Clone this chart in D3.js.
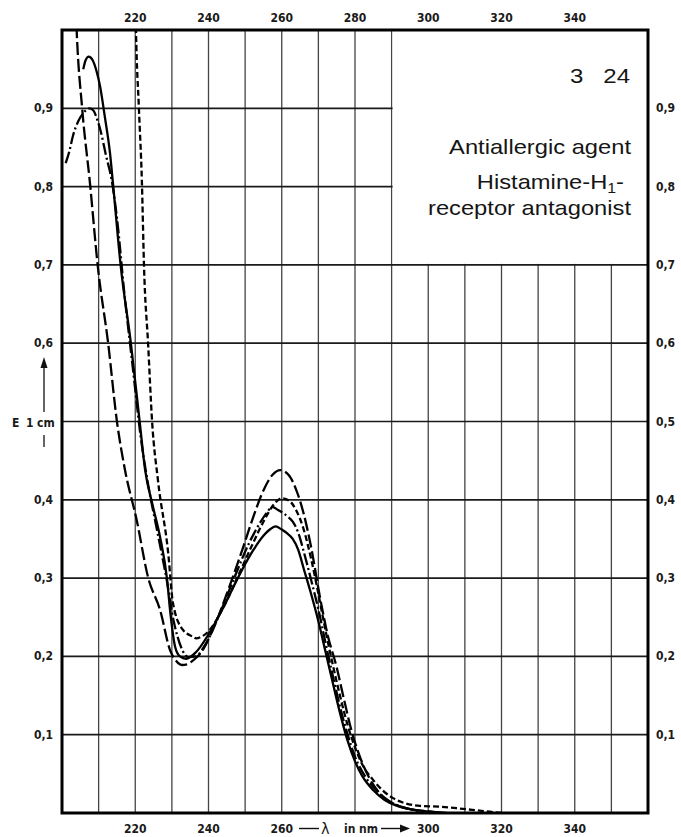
<!DOCTYPE html>
<html>
  <head>
    <meta charset="utf-8">
    <title>UV spectrum 3 24</title>
    <style>
      body { margin: 0; background: #fff; }
      .tick { font-family: "DejaVu Sans Condensed", "Liberation Sans Narrow", sans-serif; font-size: 12px; font-weight: bold; fill: #1a1a1a; }
      .note { font-family: "Liberation Sans", Arial, sans-serif; fill: #151515; }
    </style>
  </head>
  <body>
    <script src="https://d3js.org/d3.v7.min.js"></script>
    <script type="text/javascript">
      // wavelengths (nm) and E 1cm values
      var solidNm   = [205.8, 206.5, 207.3, 208.3, 209.4, 210.4, 211.7, 213.1, 214.0, 216.0, 218.8, 221.2, 222.7, 224.8, 226.8, 228.7, 229.6, 230.9, 232.2, 233.9, 236.5, 240, 244, 248, 252, 255, 257, 258.3, 260, 261.5, 263, 264.5, 266, 268, 270, 272, 274, 276, 278, 280, 282, 285, 288, 291, 295, 300, 305];
      var solidVal  = [0.950, 0.962, 0.966, 0.962, 0.948, 0.928, 0.889, 0.843, 0.800, 0.700, 0.600, 0.500, 0.438, 0.392, 0.352, 0.298, 0.255, 0.212, 0.200, 0.197, 0.205, 0.228, 0.262, 0.300, 0.334, 0.354, 0.363, 0.366, 0.362, 0.357, 0.350, 0.336, 0.312, 0.280, 0.245, 0.205, 0.165, 0.126, 0.092, 0.066, 0.047, 0.029, 0.017, 0.010, 0.005, 0.002, 0.0];

      var longNm    = [203.6, 204.0, 205.5, 207.6, 209.8, 212.6, 215.0, 217.2, 220.4, 223.5, 226.8, 229.5, 231.2, 232.7, 234.2, 235.8, 238, 241, 245, 249.5, 252, 255, 257.5, 259.6, 262, 264, 266, 268, 270.5, 272.5, 275, 277, 279, 281, 284, 287, 290, 294, 300, 304];
      var longVal   = [1.05, 1.0, 0.9, 0.806, 0.697, 0.600, 0.500, 0.438, 0.374, 0.301, 0.259, 0.208, 0.194, 0.189, 0.190, 0.195, 0.205, 0.232, 0.280, 0.340, 0.375, 0.412, 0.432, 0.438, 0.431, 0.412, 0.382, 0.340, 0.274, 0.228, 0.186, 0.145, 0.106, 0.076, 0.044, 0.024, 0.013, 0.006, 0.002, 0.0];

      var dashNm    = [220.0, 220.2, 221.0, 221.8, 222.4, 223.5, 224.6, 226.2, 229.0, 230.3, 233.0, 235.8, 236.6, 238, 240, 244, 248, 252, 255, 258, 260, 262, 264, 266, 268, 270, 272, 274, 276, 278, 280, 282, 285, 288, 290.4, 294, 297.8, 303, 308, 314, 320];
      var dashVal   = [1.05, 1.0, 0.9, 0.808, 0.697, 0.600, 0.500, 0.425, 0.332, 0.268, 0.234, 0.225, 0.223, 0.225, 0.232, 0.262, 0.302, 0.343, 0.372, 0.395, 0.402, 0.399, 0.386, 0.362, 0.325, 0.280, 0.232, 0.188, 0.148, 0.112, 0.084, 0.062, 0.042, 0.027, 0.019, 0.012, 0.009, 0.008, 0.006, 0.003, 0.0];

      var dotNm     = [201.0, 202.0, 203.0, 204.5, 206.0, 207.6, 208.6, 209.6, 210.6, 212.0, 213.5, 215.0, 217.0, 219.3, 221.5, 223.5, 226.0, 228.5, 230.5, 232.5, 234.5, 236.5, 239, 243, 247, 251, 254, 256, 257.4, 259, 261.5, 263, 264.5, 266, 268, 270, 272, 274, 276, 278, 280, 283, 286, 289, 292, 296, 300];
      var dotVal    = [0.830, 0.845, 0.865, 0.884, 0.895, 0.900, 0.897, 0.886, 0.870, 0.840, 0.810, 0.760, 0.665, 0.570, 0.480, 0.420, 0.360, 0.300, 0.245, 0.212, 0.199, 0.200, 0.214, 0.254, 0.300, 0.344, 0.370, 0.384, 0.391, 0.387, 0.379, 0.372, 0.358, 0.334, 0.298, 0.260, 0.216, 0.174, 0.134, 0.100, 0.072, 0.045, 0.028, 0.016, 0.009, 0.004, 0.0];

      var xTicks = [220, 240, 260, 280, 300, 320, 340];
      var xTickLabels = ['220', '240', '260', '280', '300', '320', '340'];
      var yTicks = [0.1, 0.2, 0.3, 0.4, 0.5, 0.6, 0.7, 0.8, 0.9];
      var yLeftLabels = ['0,1', '0,2', '0,3', '0,4', '', '0,6', '0,7', '0,8', '0,9'];
      var yRightLabels = ['0,1', '0,2', '0,3', '0,4', '0,5', '0,6', '0,7', '0,8', '0,9'];
      var noteLines = ['Antiallergic agent', 'Histamine-H', 'receptor antagonist'];

      var w = 681, h = 837;
      var svg = d3.select('body').append('svg').attr('width', w).attr('height', h);

      var xScale = d3.scaleLinear().domain([200, 360]).range([62, 648]);
      var yScale = d3.scaleLinear().domain([0, 1]).range([813, 30]);

      // grid
      svg.append('g').selectAll('line')
        .data(d3.range(210, 360, 10))
        .enter().append('line')
        .attr('x1', function(d) { return xScale(d); })
        .attr('x2', function(d) { return xScale(d); })
        .attr('y1', yScale(1)).attr('y2', yScale(0))
        .attr('stroke', '#444').attr('stroke-width', 1.3);

      svg.append('g').selectAll('line')
        .data(yTicks)
        .enter().append('line')
        .attr('x1', xScale(200)).attr('x2', xScale(360))
        .attr('y1', function(d) { return yScale(d); })
        .attr('y2', function(d) { return yScale(d); })
        .attr('stroke', '#1a1a1a').attr('stroke-width', 1.7);

      // white box for the title text
      svg.append('rect')
        .attr('x', xScale(290) + 1).attr('y', yScale(1))
        .attr('width', xScale(360) - xScale(290) - 1)
        .attr('height', yScale(0.7) - yScale(1) - 1)
        .attr('fill', '#fff');

      // curves
      svg.append('clipPath').attr('id', 'plot')
        .append('rect')
        .attr('x', xScale(200)).attr('y', yScale(1))
        .attr('width', xScale(360) - xScale(200))
        .attr('height', yScale(0) - yScale(1));

      var line = d3.line()
        .x(function(d) { return xScale(d[0]); })
        .y(function(d) { return yScale(d[1]); })
        .curve(d3.curveMonotoneX);

      var series = [
        { nm: solidNm, val: solidVal, dash: null },
        { nm: longNm, val: longVal, dash: '13,4' },
        { nm: dashNm, val: dashVal, dash: '6,3' },
        { nm: dotNm, val: dotVal, dash: '12,3,2,3' }
      ];

      svg.append('g').attr('clip-path', 'url(#plot)')
        .selectAll('path')
        .data(series)
        .enter().append('path')
        .attr('d', function(s) { return line(d3.zip(s.nm, s.val)); })
        .attr('fill', 'none')
        .attr('stroke', '#000')
        .attr('stroke-width', 2.3)
        .attr('stroke-dasharray', function(s) { return s.dash; });

      // frame
      svg.append('rect')
        .attr('x', xScale(200)).attr('y', yScale(1))
        .attr('width', xScale(360) - xScale(200))
        .attr('height', yScale(0) - yScale(1))
        .attr('fill', 'none').attr('stroke', '#000').attr('stroke-width', 3);

      // x tick labels, top and bottom
      svg.append('g').selectAll('text')
        .data(xTicks)
        .enter().append('text')
        .attr('class', 'tick')
        .attr('x', function(d) { return xScale(d); })
        .attr('y', 22)
        .attr('text-anchor', 'middle')
        .text(function(d, i) { return xTickLabels[i]; });

      svg.append('g').selectAll('text')
        .data(xTicks.filter(function(d) { return d !== 280; }))
        .enter().append('text')
        .attr('class', 'tick')
        .attr('x', function(d) { return xScale(d); })
        .attr('y', 833)
        .attr('text-anchor', 'middle')
        .text(function(d) { return xTickLabels[xTicks.indexOf(d)]; });

      // x axis title between 260 and 300: -- lambda in nm -->
      svg.append('line')
        .attr('x1', 299).attr('x2', 319)
        .attr('y1', 828.5).attr('y2', 828.5)
        .attr('stroke', '#111').attr('stroke-width', 1.4);
      svg.append('text').attr('class', 'tick')
        .attr('x', 321).attr('y', 834)
        .style('font-size', '16px').style('font-weight', 'normal')
        .text('\u03bb');
      svg.append('text').attr('class', 'tick')
        .attr('x', 344).attr('y', 833)
        .text('in');
      svg.append('text').attr('class', 'tick')
        .attr('x', 359).attr('y', 833)
        .text('nm');
      svg.append('line')
        .attr('x1', 381).attr('x2', 402)
        .attr('y1', 828.5).attr('y2', 828.5)
        .attr('stroke', '#111').attr('stroke-width', 1.4);
      svg.append('path')
        .attr('d', 'M410,828.5 L400,824.5 L400,832.5 Z')
        .attr('fill', '#111');

      // y tick labels
      svg.append('g').selectAll('text')
        .data(yTicks)
        .enter().append('text')
        .attr('class', 'tick')
        .attr('x', 53)
        .attr('y', function(d) { return yScale(d) + 4; })
        .attr('text-anchor', 'end')
        .text(function(d, i) { return yLeftLabels[i]; });

      svg.append('g').selectAll('text')
        .data(yTicks)
        .enter().append('text')
        .attr('class', 'tick')
        .attr('x', 656)
        .attr('y', function(d) { return yScale(d) + 4; })
        .text(function(d, i) { return yRightLabels[i]; });

      // y axis title with arrow: E 1 cm
      var yTitle = svg.append('g').attr('class', 'tick');
      yTitle.append('text').attr('x', 12).attr('y', yScale(0.5) + 5).text('E');
      yTitle.append('text').attr('x', 26).attr('y', yScale(0.5) + 5).text('1');
      yTitle.append('text').attr('x', 37).attr('y', yScale(0.5) + 5).text('cm');
      svg.append('line')
        .attr('x1', 44).attr('x2', 44)
        .attr('y1', 412).attr('y2', 365)
        .attr('stroke', '#111').attr('stroke-width', 1.3);
      svg.append('path')
        .attr('d', 'M44,357 L40.5,368 L47.5,368 Z')
        .attr('fill', '#111');
      svg.append('line')
        .attr('x1', 44).attr('x2', 44)
        .attr('y1', 435).attr('y2', 447)
        .attr('stroke', '#111').attr('stroke-width', 1.3);

      // notes in the box
      var note = svg.append('g').attr('class', 'note');
      note.append('text')
        .attr('transform', 'translate(630,83) scale(1.2,1)')
        .attr('text-anchor', 'end')
        .attr('font-size', 20)
        .attr('xml:space', 'preserve')
        .text('3   24');
      note.append('text')
        .attr('transform', 'translate(631,154) scale(1.13,1)')
        .attr('text-anchor', 'end')
        .attr('font-size', 21)
        .text(noteLines[0]);
      var hist = note.append('text')
        .attr('transform', 'translate(624,189) scale(1.13,1)')
        .attr('text-anchor', 'end')
        .attr('font-size', 21);
      hist.append('tspan').text(noteLines[1]);
      hist.append('tspan').attr('font-size', 14).attr('dy', 4).text('1');
      hist.append('tspan').attr('dy', -4).text('-');
      note.append('text')
        .attr('transform', 'translate(631,215) scale(1.13,1)')
        .attr('text-anchor', 'end')
        .attr('font-size', 21)
        .text(noteLines[2]);
    </script>
  </body>
</html>
